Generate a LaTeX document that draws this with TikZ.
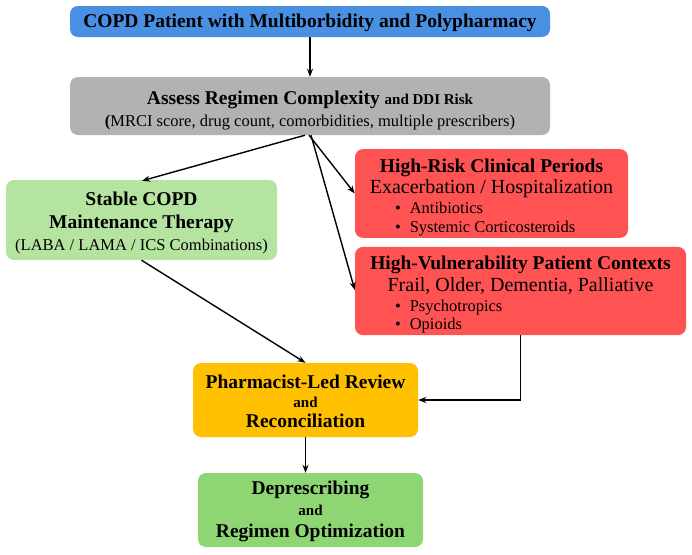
\documentclass[tikz,border=0pt]{standalone}
\usepackage{fontspec}
\setmainfont{Liberation Serif}
\usetikzlibrary{arrows.meta,calc}
\definecolor{cblue}{RGB}{74,144,226}
\definecolor{cgray}{RGB}{178,178,178}
\definecolor{clgreen}{RGB}{180,228,160}
\definecolor{cred}{RGB}{255,82,82}
\definecolor{corange}{RGB}{255,192,0}
\definecolor{cgreen}{RGB}{142,214,115}
\newcommand{\bigf}{\fontsize{19.5}{22.5}\selectfont}
\newcommand{\subf}{\fontsize{20}{22.5}\selectfont}
\newcommand{\midf}{\fontsize{16.5}{19}\selectfont}
\newcommand{\smf}{\fontsize{15}{17}\selectfont}
\newcommand{\topsp}[1]{\rule{0pt}{#1}}
\tikzset{
  boxbase/.style={rounded corners=8pt, draw=none, align=center, inner sep=0pt, text=black, font=\bigf},
  arr/.style={-{Stealth[length=8pt,width=6pt]}, line width=1.4pt},
}
\begin{document}
\begin{tikzpicture}[x=1pt,y=-1pt]
\useasboundingbox (0,0) rectangle (692,554);
\node[boxbase, fill=cblue, minimum width=480pt, minimum height=31pt] (top) at (310,21.5)
  {\topsp{16pt}\bfseries COPD Patient with Multiborbidity and Polypharmacy};
\node[boxbase, fill=cgray, minimum width=480pt, minimum height=58pt] (assess) at (310,106)
  {\topsp{22pt}{\bfseries Assess Regimen Complexity} {\smf\bfseries and DDI Risk}\\[-0.5pt]
   {\midf\textbf{(}MRCI score, drug count, comorbidities, multiple prescribers)}};
\node[boxbase, fill=clgreen, minimum width=271pt, minimum height=80pt] (stable) at (141.5,220)
  {\topsp{20pt}{\bfseries Stable COPD}\\ {\bfseries Maintenance Therapy}\\[-0.5pt] {\midf (LABA / LAMA / ICS Combinations)}};
\node[boxbase, fill=cred, minimum width=273pt, minimum height=87pt] (risk) at (491.5,193.5)
  {\topsp{23pt}{\bfseries High-Risk Clinical Periods}\\[-1.5pt]
   {\subf Exacerbation / Hospitalization}\\[-2.5pt]
   \makebox[193pt][l]{\midf\begin{tabular}[t]{@{}l@{}}\textbullet\hspace{9pt}Antibiotics\\ \textbullet\hspace{9pt}Systemic Corticosteroids\end{tabular}}};
\node[boxbase, fill=cred, minimum width=331pt, minimum height=88pt] (vuln) at (520.5,291)
  {\topsp{23pt}{\bfseries High-Vulnerability Patient Contexts}\\[-0.5pt]
   {\subf Frail, Older, Dementia, Palliative}\\[-2.5pt]
   \makebox[251pt][l]{\midf\begin{tabular}[t]{@{}l@{}}\textbullet\hspace{9pt}Psychotropics\\[-1.5pt] \textbullet\hspace{9pt}Opioids\end{tabular}}};
\node[boxbase, fill=corange, minimum width=225pt, minimum height=74pt] (review) at (305.5,400)
  {\topsp{16pt}{\bfseries Pharmacist-Led Review}\\[-3pt] {\smf\bfseries and}\\[-3pt] {\bfseries Reconciliation}};
\node[boxbase, fill=cgreen, minimum width=225pt, minimum height=74pt] (depr) at (310.5,510)
  {\topsp{16pt}{\bfseries Deprescribing}\\[-1pt] {\smf\bfseries and}\\[-1pt] {\bfseries Regimen Optimization}};
\coordinate (o1) at ($(assess.south)+(-5,0)$);
\coordinate (o2) at ($(assess.south)+(-1,0)$);
\coordinate (o3) at ($(assess.south)+(1,0)$);
\draw[arr] (top.south) -- (assess.north);
\draw[arr] (o1) -- ($(stable.north)+(0.5,1)$);
\draw[arr] (o2) -- (risk.west);
\draw[arr] (o3) -- ($(vuln.west)+(0,-1)$);
\draw[arr] (stable.south) -- (review.north);
\draw[arr] (vuln.south) |- (review.east);
\draw[arr] (review.south) -- (review.south |- depr.north);
\end{tikzpicture}
\end{document}
